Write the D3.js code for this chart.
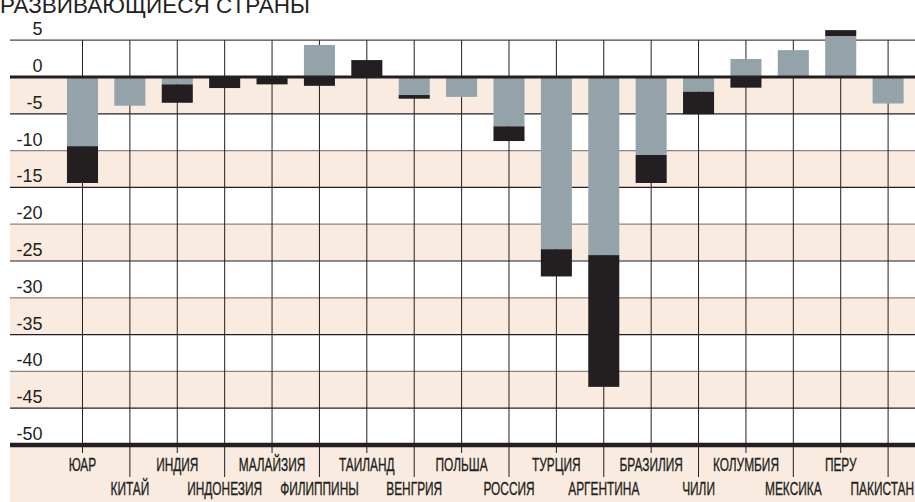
<!DOCTYPE html>
<html>
<head>
<meta charset="utf-8">
<script src="https://cdnjs.cloudflare.com/ajax/libs/d3/7.8.5/d3.min.js"></script>
<style>
  html, body { margin: 0; padding: 0; background: #fff; }
  svg { display: block; }
</style>
</head>
<body>
<div class="chart"></div>
<script>
// data
var countries = ["ЮАР", "КИТАЙ", "ИНДИЯ", "ИНДОНЕЗИЯ", "МАЛАЙЗИЯ", "ФИЛИППИНЫ",
    "ТАИЛАНД", "ВЕНГРИЯ", "ПОЛЬША", "РОССИЯ", "ТУРЦИЯ", "АРГЕНТИНА",
    "БРАЗИЛИЯ", "ЧИЛИ", "КОЛУМБИЯ", "МЕКСИКА", "ПЕРУ", "ПАКИСТАН"];
var grayValues  = [-9.4, -3.9, -1.0, 0, 0, 4.35, 0, -2.45, -2.7, -6.7, -23.4, -24.2,
    -10.6, -2.0, 2.45, 3.65, 5.57, -3.6];
var blackValues = [-5.0, 0, -2.5, -1.5, -1.0, -1.2, 2.3, -0.5, 0, -2.0, -3.7, -17.9,
    -3.8, -3.05, -1.45, 0, 0.8, 0];
var yTicks = [5, 0, -5, -10, -15, -20, -25, -30, -35, -40, -45, -50];
var title = "РАЗВИВАЮЩИЕСЯ СТРАНЫ";

var width = 915, height = 502;
var peach = "#f9ebdf", grayBar = "#94a3aa", ink = "#231f20";

var svg = d3.select("div.chart")
    .append("svg")
    .attr("width", width)
    .attr("height", height);

var y = d3.scaleLinear().domain([5, -50]).range([40.2, 445]);
var x = d3.scaleBand().domain(countries)
    .range([58.8, 911.8])
    .paddingInner(0.345)
    .paddingOuter(0.1725);
var left = 10;
var squeeze = 0.66;

var rows = countries.map(function(c, i){
    return {country: c, gray: grayValues[i], black: blackValues[i]};
});
var stack = d3.stack().keys(["gray", "black"]).offset(d3.stackOffsetDiverging);
var series = stack(rows);

// peach bands: 0..-5, -10..-15, ...
var bands = yTicks.filter(function(v){ return v <= 0 && v > -50 && (v % 10 === 0); });
svg.selectAll("rect.band").data(bands).enter().append("rect")
    .attr("class", "band")
    .attr("x", left)
    .attr("width", width - left)
    .attr("y", function(d){ return y(d); })
    .attr("height", function(d){ return y(d - 5) - y(d); })
    .attr("fill", peach);

// label area
svg.append("rect")
    .attr("x", left)
    .attr("y", y(-50))
    .attr("width", width - left)
    .attr("height", height - y(-50))
    .attr("fill", peach);

// horizontal grid
svg.selectAll("line.hgrid").data(yTicks.filter(function(v){ return v !== 0 && v !== -50; }))
    .enter().append("line")
    .attr("class", "hgrid")
    .attr("x1", left).attr("x2", width)
    .attr("y1", function(d){ return y(d); })
    .attr("y2", function(d){ return y(d); })
    .attr("stroke", function(d){
        if (d === 5) return "#4a4545";
        return (d % 10 === 0) ? "#8c847f" : ink;
    })
    .attr("stroke-width", 1.2);

// vertical lines through bar centres, running into the label area
svg.selectAll("line.vgrid").data(countries).enter().append("line")
    .attr("class", "vgrid")
    .attr("x1", function(d){ return x(d) + x.bandwidth() / 2; })
    .attr("x2", function(d){ return x(d) + x.bandwidth() / 2; })
    .attr("y1", y(5))
    .attr("y2", function(d, i){ return i % 2 === 0 ? 453 : 477; })
    .attr("stroke", ink)
    .attr("stroke-width", 1);

// bars
var colors = {gray: grayBar, black: ink};
svg.selectAll("g.series").data(series).enter().append("g")
    .attr("class", "series")
    .attr("fill", function(d){ return colors[d.key]; })
    .selectAll("rect").data(function(d){ return d; }).enter().append("rect")
    .attr("x", function(d){ return x(d.data.country); })
    .attr("width", x.bandwidth())
    .attr("y", function(d){ return y(Math.max(d[0], d[1])); })
    .attr("height", function(d){ return Math.abs(y(d[0]) - y(d[1])); });

// zero line and bottom line
svg.append("line")
    .attr("x1", left).attr("x2", width)
    .attr("y1", y(0)).attr("y2", y(0))
    .attr("stroke", ink).attr("stroke-width", 3);
svg.append("line")
    .attr("x1", left).attr("x2", width)
    .attr("y1", y(-50)).attr("y2", y(-50))
    .attr("stroke", ink).attr("stroke-width", 4.5);

// y labels
svg.selectAll("text.ylab").data(yTicks).enter().append("text")
    .attr("class", "ylab")
    .text(function(d){ return d; })
    .attr("x", 42.5)
    .attr("y", function(d){ return y(d) - 5; })
    .attr("text-anchor", "end")
    .attr("font-family", "'Liberation Sans', Arial, sans-serif")
    .attr("font-size", "18px")
    .attr("fill", ink);

// country labels, two staggered rows, squeezed to a condensed look
var clab = svg.selectAll("text.clab").data(countries).enter().append("text")
    .attr("class", "clab")
    .text(function(d){ return d; })
    .attr("text-anchor", "middle")
    .attr("font-family", "'Liberation Sans', Arial, sans-serif")
    .attr("font-size", "18px")
    .attr("fill", ink)
    .attr("stroke", ink)
    .attr("stroke-width", 0.35);
clab.attr("transform", function(d, i){
    var half = this.getComputedTextLength() * squeeze / 2;
    var cx = Math.min(x(d) + x.bandwidth() / 2, width - 1 - half);
    return "translate(" + cx + "," + (i % 2 === 0 ? 470.5 : 494.5) + ") scale(" + squeeze + ",1)";
});

// title, cut at the top as in the source
svg.append("text")
    .text(title)
    .attr("x", 0)
    .attr("y", 12.5)
    .attr("font-family", "'Liberation Sans', Arial, sans-serif")
    .attr("font-size", "22.5px")
    .attr("fill", ink);
</script>
</body>
</html>
